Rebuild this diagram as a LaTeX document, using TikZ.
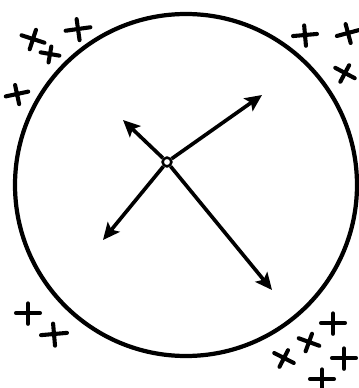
\documentclass[tikz,border=0pt]{standalone}
\usetikzlibrary{arrows.meta}

% one hand-drawn cross: x, y, angle, scale
\newcommand{\crossat}[4]{%
  \begin{scope}[shift={(#1,#2)}, rotate=#3, scale=#4]
    \draw[crossline] (-10,0) -- (10,0) (0,-8) -- (0,9);
  \end{scope}}

\begin{document}
\begin{tikzpicture}[
    x=0.025cm, y=-0.025cm,
    >={Stealth[length=12pt, width=11pt, inset=2.5pt]},
    crossline/.style={line width=2.9pt, line cap=round},
    ray/.style={->, line width=2.6pt},
]
\useasboundingbox (0,0) rectangle (358,388);
% the big circle
\draw[line width=3pt] (186,185) circle (171);
% centre point and the four rays
\node[circle, draw, fill=white, line width=1.8pt, minimum size=0.22cm, inner sep=0pt] (o) at (167,162) {};
\coordinate (ur) at (262,95);
\coordinate (ul) at (123,120);
\coordinate (ll) at (103,240);
\coordinate (lr) at (272,290);
\draw[ray] (o) -- (ur);
\draw[ray] (o) -- (ul);
\draw[ray] (o) -- (ll);
\draw[ray] (o) -- (lr);
% crosses outside the circle, top left
\crossat{33}{39}{-18}{1.2}
\crossat{50}{54}{-10}{0.95}
\crossat{78}{29}{8}{1.25}
\crossat{17}{94}{12}{1.15}
% top right
\crossat{305}{35}{5}{1.2}
\crossat{348}{33}{15}{1.15}
\crossat{345}{73}{-28}{1.1}
% bottom left
\crossat{28}{313}{0}{1.2}
\crossat{54}{334}{5}{1.3}
% bottom right
\crossat{333}{323}{0}{1.2}
\crossat{309}{342}{-20}{1.1}
\crossat{284}{358}{-27}{1.1}
\crossat{344}{358}{0}{1.2}
\crossat{322}{379}{0}{1.2}
\end{tikzpicture}
\end{document}
